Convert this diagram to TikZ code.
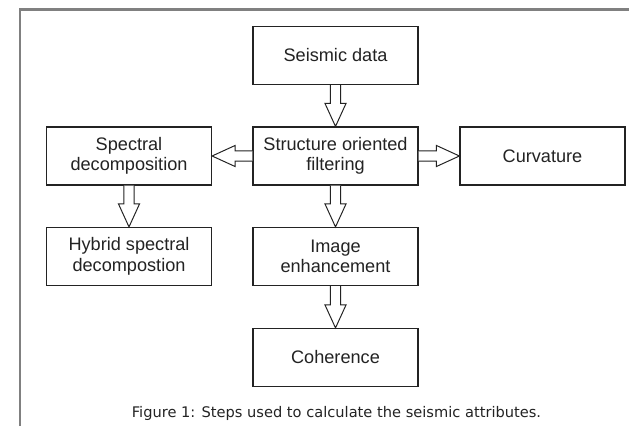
\documentclass[tikz,border=0pt]{standalone}
\usepackage{fontspec}
\setmainfont{Liberation Sans}
\newfontfamily\capfont{DejaVu Sans}
\usetikzlibrary{calc}
\definecolor{framegray}{RGB}{128,128,128}
\definecolor{inkgray}{RGB}{35,35,35}

% hollow block arrow from one anchor to another
\newcommand{\hollowarrow}[2]{%
  \draw[blockarrow] let \p1=(#1), \p2=(#2),
      \n1={atan2(\y2-\y1,\x2-\x1)}, \n2={veclen(\x2-\x1,\y2-\y1)},
      \n3={\n2-16.4} in
    [shift={(\p1)}, rotate=\n1]
    (0pt,3.6pt) -- ({\n3+0pt},3.6pt) -- ({\n3+0pt},7.5pt) -- ({\n2+0pt},0pt)
    -- ({\n3+0pt},-7.5pt) -- ({\n3+0pt},-3.6pt) -- (0pt,-3.6pt);}

\begin{document}
\begin{tikzpicture}[
    x=0.025cm, y=-0.025cm,
    procbox/.style={rectangle, draw=inkgray, line width=0.8pt, fill=white,
                    minimum width=4.125cm, minimum height=1.45cm, inner sep=2pt,
                    align=center, text=inkgray,
                    font=\fontsize{12.9}{14.5}\selectfont},
    blockarrow/.style={draw=inkgray, line width=0.7pt, fill=white, line join=miter},
    caption/.style={font=\capfont\fontsize{10.4}{12}\selectfont, text=inkgray}
  ]
    \useasboundingbox (0,0) rectangle (629,426);

    % page frame
    \draw[framegray, line width=1.9pt] (20,426) -- (20,9.75) -- (629,9.75);

    \node[procbox] (seis) at (335.5,55.5) {Seismic data};
    \node[procbox] (sof)  at (335.5,156)  {Structure oriented\\filtering};
    \node[procbox] (spec) at (129,156)    {Spectral\\decomposition};
    \node[procbox] (curv) at (542.5,156)  {Curvature};
    \node[procbox] (hyb)  at (129,256.5)  {Hybrid spectral\\decompostion};
    \node[procbox] (img)  at (335.5,256.5) {Image\\enhancement};
    \node[procbox] (coh)  at (335.5,357.5) {Coherence};

    \hollowarrow{seis.south}{sof.north}
    \hollowarrow{sof.west}{spec.east}
    \hollowarrow{sof.east}{curv.west}
    \hollowarrow{sof.south}{img.north}
    \hollowarrow{spec.south}{hyb.north}
    \hollowarrow{img.south}{coh.north}

    % caption
    \node[caption] (cap) at (336.5,413)
      {Figure 1: Steps used to calculate the seismic attributes.};
\end{tikzpicture}
\end{document}
